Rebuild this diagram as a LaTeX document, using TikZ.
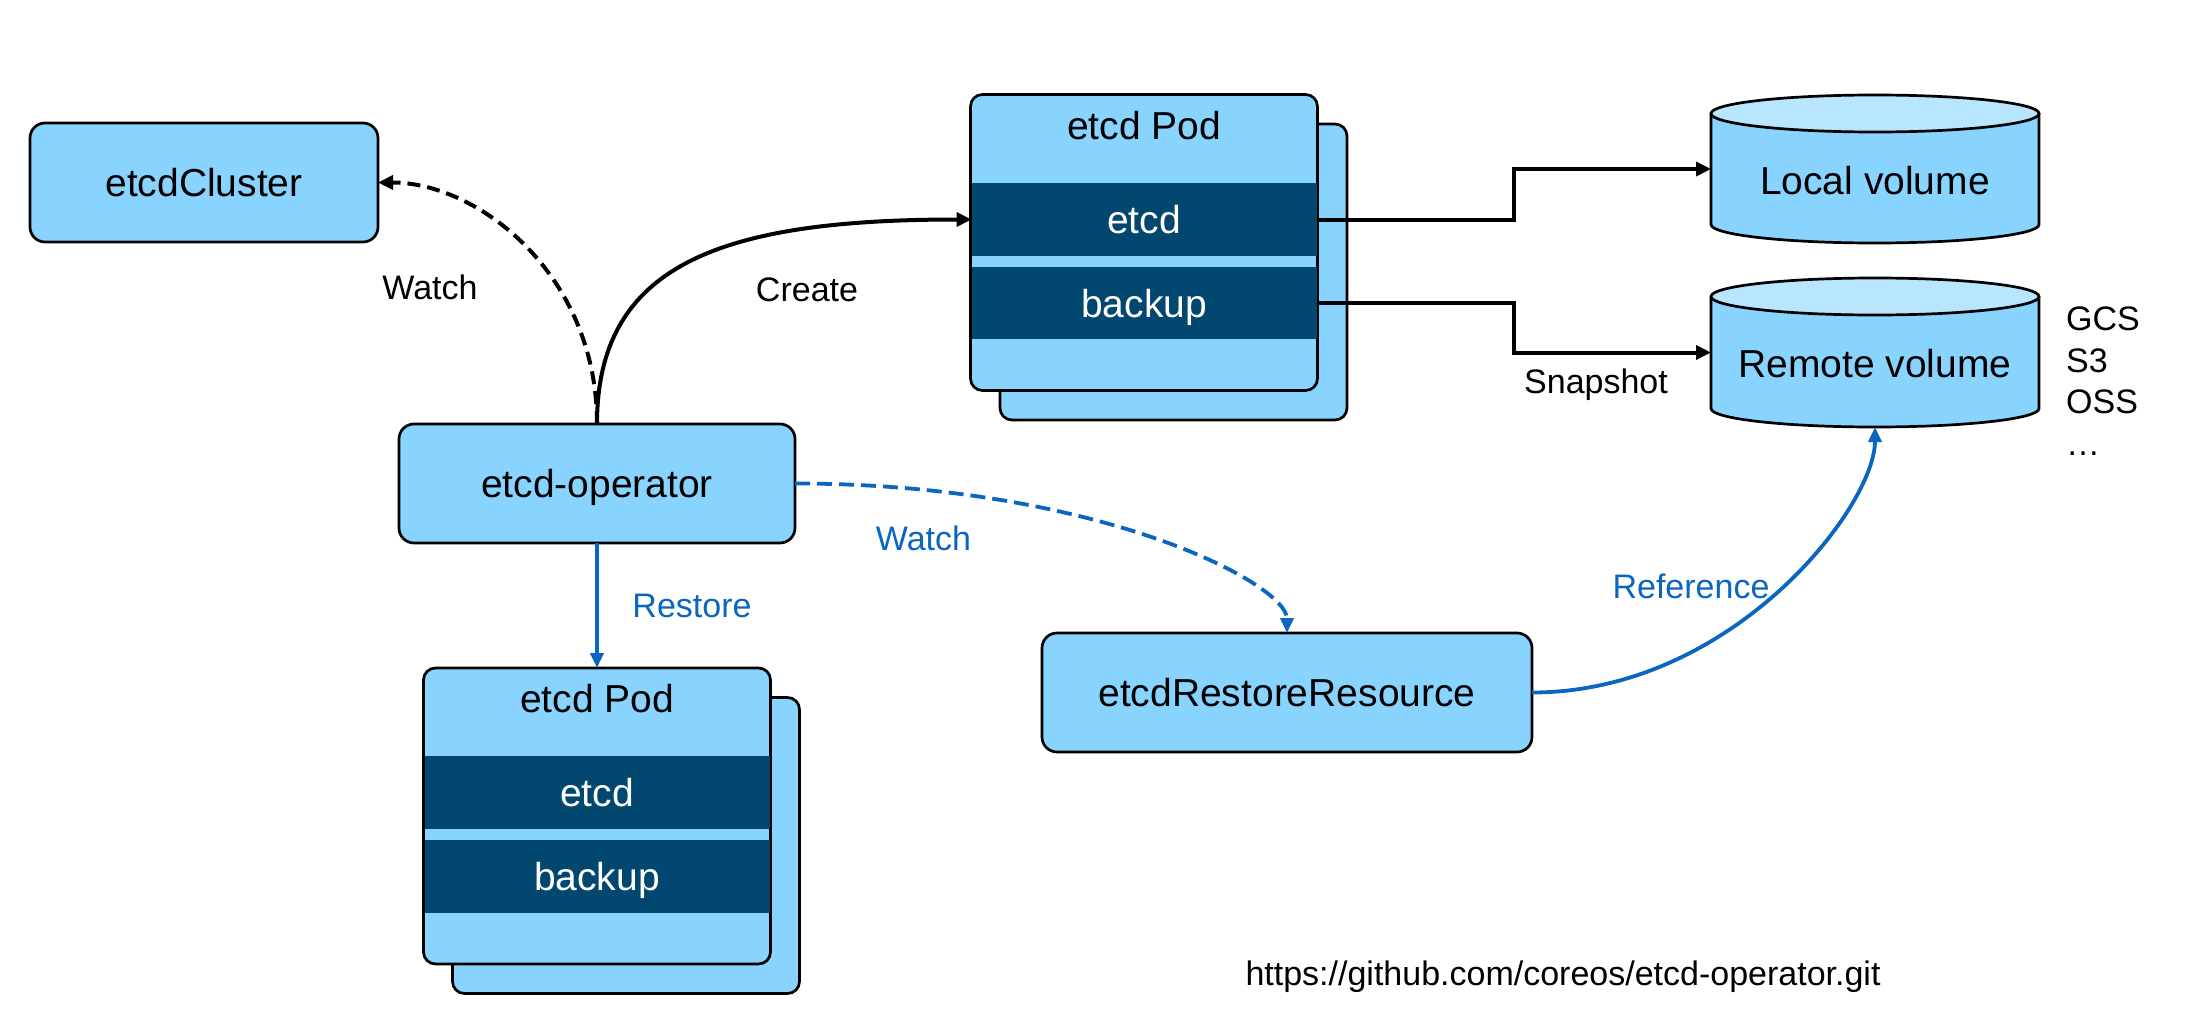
\documentclass[tikz,border=0pt]{standalone}
\usepackage{fontspec}
\setmainfont{Liberation Sans}
\usetikzlibrary{arrows.meta,backgrounds}
\definecolor{lb}{HTML}{89D4FE}
\definecolor{lbtop}{HTML}{B8E6FE}
\definecolor{dk}{HTML}{02476F}
\definecolor{bl}{HTML}{0A66BE}
\begin{document}
\begin{tikzpicture}[x=1pt,y=1pt,
  big/.style={font=\fontsize{39}{47}\selectfont},
  small/.style={font=\fontsize{34}{41}\selectfont, text depth=0pt, inner sep=0pt},
  box/.style={draw=black, line width=2.7pt, fill=lb, rounded corners=15pt, inner sep=0pt, outer sep=0pt, big, text depth=0pt, minimum height=119pt},
  podbox/.style={draw=black, line width=2.7pt, fill=lb, rounded corners=12pt, inner sep=0pt, outer sep=0pt, minimum width=347pt, minimum height=296pt},
  band/.style={fill=dk, inner sep=0pt, outer sep=0pt, minimum width=345pt, minimum height=73pt, text=white, big, text depth=0pt},
  podtitle/.style={big, text depth=0pt, inner sep=0pt},
  cylnode/.style={inner sep=0pt, outer sep=0pt, minimum width=328pt, minimum height=148pt, big, text height=50.5pt, text depth=0pt},
  blk/.style={draw=black, line width=4pt, -{Triangle[length=15pt,width=14pt]}},
  blu/.style={draw=bl, line width=3.8pt, -{Triangle[length=15pt,width=13pt]}},
  blkdash/.style={dash pattern=on 13pt off 7pt},
  bludash/.style={dash pattern=on 15pt off 7pt}
]
\useasboundingbox (0,0) rectangle (2186,-1022);

% boxes
\node[box, minimum width=348pt] (cluster) at (204,-182.5) {etcdCluster};
\node[box, minimum width=396pt] (operator) at (597,-483.5) {etcd-operator};
\node[box, minimum width=490pt] (restore) at (1287,-692.5) {etcdRestoreResource};

% upper pod
\node[podbox] (pod1back) at (1173.5,-272) {};
\node[podbox] (pod1) at (1144,-242.5) {};
\node[band] (pod1etcd) at (1144,-219.5) {etcd};
\node[band, minimum height=72pt] (pod1backup) at (1144,-303) {backup};
\node[podtitle] (pod1title) at (1144,-125) {etcd Pod};

% lower pod
\node[podbox] (pod2back) at (626,-845.5) {};
\node[podbox] (pod2) at (597,-816) {};
\node[band] (pod2etcd) at (597,-792.5) {etcd};
\node[band] (pod2backup) at (597,-876.5) {backup};
\node[podtitle] (pod2title) at (597,-698) {etcd Pod};

% volumes
\node[cylnode] (local) at (1875,-169) {Local volume};
\node[cylnode, minimum height=149pt] (remote) at (1875,-352.5) {Remote volume};
\begin{pgfonlayer}{background}
\fill[white] (0,0) rectangle (2186,-1022);
\foreach \n in {local,remote}{
  \fill[lb] ([yshift=-18.5pt]\n.north west) -- ([yshift=18.5pt]\n.south west)
     arc[start angle=180,end angle=360,x radius=164pt,y radius=18.5pt]
     -- ([yshift=-18.5pt]\n.north east) -- cycle;
  \draw[line width=2.7pt] ([yshift=-18.5pt]\n.north west) -- ([yshift=18.5pt]\n.south west)
     arc[start angle=180,end angle=360,x radius=164pt,y radius=18.5pt]
     -- ([yshift=-18.5pt]\n.north east);
  \draw[line width=2.7pt, fill=lbtop] ([yshift=-18.5pt]\n.north) ellipse [x radius=164pt, y radius=18.5pt];
}
\end{pgfonlayer}

% storage list
\node[small, anchor=base west] (gcs) at (2066,-330) {GCS};
\node[small, anchor=base west] (s3) at (2066,-372) {S3};
\node[small, anchor=base west] (oss) at (2066,-413) {OSS};
\node[small, anchor=base west] (more) at (2066,-455) {…};

% connectors
\draw[blk, blkdash] (operator.north) .. controls +(0,150) and +(100,0) .. (cluster.east);
\draw[blk] (operator.north) .. controls +(0,160) and +(-250,0) .. (pod1etcd.west);
\draw[blk] (pod1etcd.east) -- ++(197,0) |- (local.west);
\draw[blk] (pod1backup.east) -- ++(197,0) |- (remote.west);
\draw[blu, bludash] (operator.east) .. controls +(300,0) and +(0,50) .. (restore.north);
\draw[blu] (operator.south) -- (pod2.north);
\draw[blu] (restore.east) .. controls +(200,0) and +(0,-80) .. (remote.south);

% labels
\node[small] (lwatch1) at (430,-287) {Watch};
\node[small] (lcreate) at (807,-290) {Create};
\node[small, text=bl] (lwatch2) at (923.5,-538) {Watch};
\node[small, text=bl] (lrestore) at (692,-606) {Restore};
\node[small, text=bl] (lref) at (1691,-586) {Reference};
\node[small] (lsnap) at (1596,-381) {Snapshot};
\node[small] (url) at (1563,-973) {https://github.com/coreos/etcd-operator.git};
\end{tikzpicture}
\end{document}
